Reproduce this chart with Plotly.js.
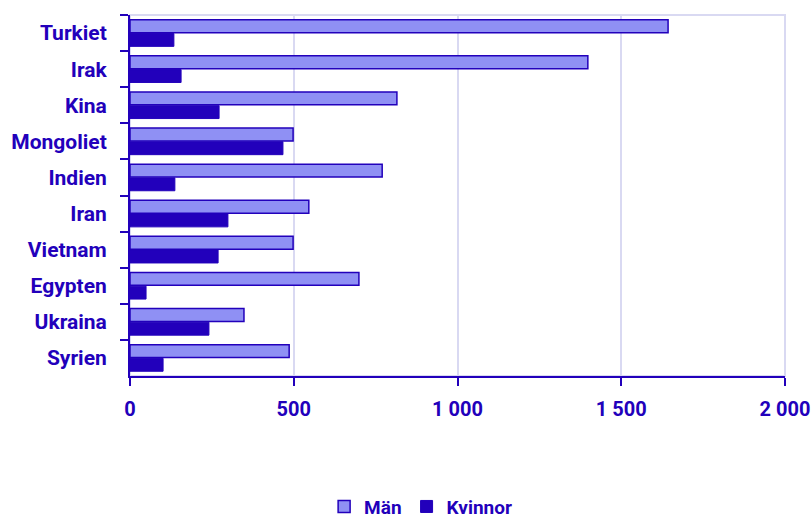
<!DOCTYPE html>
<html>
<head>
<meta charset="utf-8">
<script src="https://cdn.plot.ly/plotly-3.0.1.min.js"></script>
<style>html,body{margin:0;padding:0;background:#fff;}#chart{width:812px;height:518px;}</style>
</head>
<body>
<div id="chart"></div>
<script>
const categories = ["Turkiet","Irak","Kina","Mongoliet","Indien","Iran","Vietnam","Egypten","Ukraina","Syrien"];
const manValues = [1643, 1398, 815, 498, 770, 546, 498, 699, 348, 486];
const kvinnorValues = [134, 156, 272, 467, 137, 299, 269, 49, 241, 101];
const seriesNames = ["Män", "Kvinnor"];
const xTickVals = [0, 500, 1000, 1500, 2000];

const dark = "#2200bb";
const light = "#8f90f4";
const grid = "#d9d9f2";

const traces = [
  {type:"bar", orientation:"h", name:seriesNames[0], y:categories, x:manValues,
   marker:{color:light, line:{color:dark, width:1.5}}, hoverinfo:"x+y"},
  {type:"bar", orientation:"h", name:seriesNames[1], y:categories, x:kvinnorValues,
   marker:{color:dark, line:{color:dark, width:1}}, hoverinfo:"x+y"}
];

const layout = {
  width:812, height:518,
  margin:{l:130, r:27, t:15, b:142, autoexpand:false},
  paper_bgcolor:"#fff", plot_bgcolor:"#fff",
  font:{family:"Roboto, sans-serif", color:dark, size:20, weight:"bold"},
  separators:", ",
  barmode:"group", bargap:0.24, bargroupgap:0.06,
  showlegend:true,
  legend:{orientation:"h", xref:"container", yref:"container", x:0.518, xanchor:"center", y:0.022, yanchor:"middle",
          font:{size:19, color:dark, weight:"bold"}, itemwidth:30, tracegroupgap:0},
  xaxis:{range:[0,2000], tickvals:xTickVals, tickformat:",", showgrid:true, gridcolor:grid, gridwidth:2,
         zeroline:false, showline:true, linecolor:dark, linewidth:2,
         ticks:"outside", ticklen:8, tickwidth:2, tickcolor:dark, ticklabelstandoff:6,
         tickfont:{size:20, color:dark, weight:"bold"}, automargin:false},
  yaxis:{type:"category", autorange:"reversed", showgrid:false, zeroline:false,
         showline:true, linecolor:dark, linewidth:2,
         ticks:"outside", tickson:"boundaries", ticklen:8, tickwidth:2, tickcolor:dark,
         ticklabelstandoff:17,
         tickfont:{size:21, color:dark, weight:"bold"}, automargin:false},
  shapes:[{type:"rect", xref:"paper", yref:"paper", x0:0, x1:1, y0:0, y1:1,
           line:{color:grid, width:2}, layer:"below"}]
};

Plotly.newPlot("chart", traces, layout, {displayModeBar:false, staticPlot:true});
</script>
</body>
</html>
